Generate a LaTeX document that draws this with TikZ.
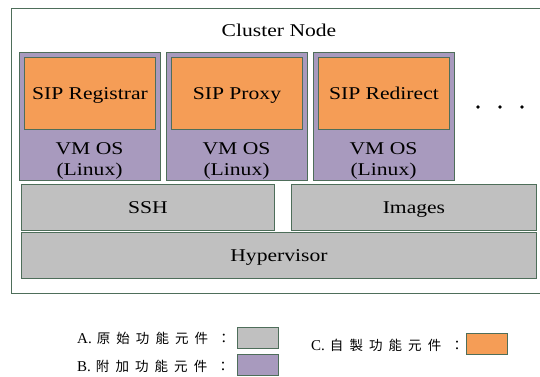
\documentclass[tikz,border=0pt]{standalone}
\usepackage{fontspec}
\setmainfont{Liberation Serif}
\newfontfamily\stretchedserif{Liberation Serif}[FakeStretch=1.2]
\newfontfamily\legfont{Liberation Serif}
\newfontfamily\cjk{Noto Sans CJK TC}[LetterSpace=45]
\definecolor{edgec}{RGB}{78,110,90}
\definecolor{grayc}{RGB}{192,192,192}
\definecolor{purplec}{RGB}{168,154,190}
\definecolor{orangec}{RGB}{245,157,86}
\newcommand{\legcjk}[1]{{\cjk\fontsize{13.5}{16}\selectfont #1\hspace{9pt}：}}
\begin{document}
\begin{tikzpicture}[x=1pt,y=-1pt,
  blk/.style={draw=edgec,line width=0.9pt,inner sep=0pt,anchor=north west,
    text depth=0pt,font=\stretchedserif\fontsize{18}{21}\selectfont},
  graybox/.style={blk,fill=grayc},
  vmbox/.style={blk,fill=purplec},
  appbox/.style={blk,fill=orangec},
  lbl/.style={inner sep=0pt,font=\stretchedserif\fontsize{18}{21}\selectfont,align=center},
  legtext/.style={inner sep=0pt,anchor=west,font=\legfont\fontsize{15}{18}\selectfont},
  legbox/.style={draw=edgec,line width=0.9pt,inner sep=0pt,anchor=north west,
    minimum width=41pt,minimum height=21pt}]
\useasboundingbox (0,0) rectangle (540,376);
\fill[white] (0,0) rectangle (540,376);

% cluster node frame
\node[draw=edgec,line width=0.9pt,inner sep=0pt,anchor=north west,
  minimum width=531pt,minimum height=285pt] (cluster) at (11,8) {};
\node[lbl] (title) at (279,30) {Cluster Node};

% virtual machines with their services
\foreach \i/\x/\svc in {1/19/SIP Registrar,2/166/SIP Proxy,3/313/SIP Redirect}{
  \node[vmbox,minimum width=141pt,minimum height=128pt] (vm\i) at (\x,52) {};
  \node[appbox,minimum width=131pt,minimum height=72pt] (app\i) at (\x+5,57) {\svc};
  \node[lbl] (os\i) at (\x+70.5,160.5) {VM OS\\(Linux)};
}

% more machines
\foreach \k/\x in {1/478,2/500,3/522}{
  \fill (\x,107) circle (1.9pt);
}

% host layers
\node[graybox,minimum width=253pt,minimum height=46pt] (ssh) at (21,184) {SSH};
\node[graybox,minimum width=245pt,minimum height=46pt] (img) at (291,184) {Images};
\node[graybox,minimum width=515pt,minimum height=46pt] (hyp) at (21,232) {Hypervisor};

% legend
\node[legtext] (la) at (77,338) {A.\hspace{5pt}\legcjk{原始功能元件}};
\node[legbox,fill=grayc] (ka) at (237,327) {};
\node[legtext] (lb) at (77,366) {B.\hspace{5pt}\legcjk{附加功能元件}};
\node[legbox,fill=purplec] (kb) at (237,354) {};
\node[legtext] (lc) at (311,345) {C.\hspace{5pt}\legcjk{自製功能元件}};
\node[legbox,fill=orangec] (kc) at (466,333) {};
\end{tikzpicture}
\end{document}
